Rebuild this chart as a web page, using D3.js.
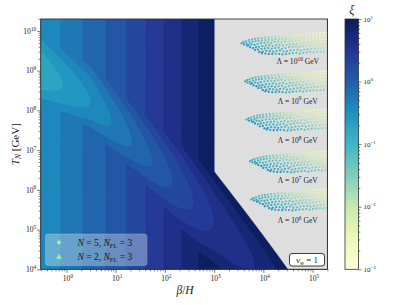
<!DOCTYPE html>
<html><head><meta charset="utf-8">
<script src="https://cdn.jsdelivr.net/npm/d3@7"></script>
<style>
body{margin:0;background:#fff}
svg{display:block}
text{font-family:"Liberation Serif","DejaVu Serif",serif;fill:#1a1a1a}
</style>
</head><body>
<svg id="c" width="407" height="305"></svg>
<script>
// ---------------- data ----------------
const xDomain = [0.3, 2e5];
const yDomain = [1e4, 2e10];
const cDomain = [1e-3, 1e1];
const xTickExp = [0, 1, 2, 3, 4, 5];
const yTickExp = [4, 5, 6, 7, 8, 9, 10];
const cTickExp = [-3, -2, -1, 0, 1];
const levelStepsPerDecade = 6;          // contour levels: logspace(-3, 1, 25)

// log10(beta/H) where the vertical contour bands change level
const bandEdgeX     = [-0.116, 0.33, 0.80, 1.22, 1.61, 1.98, 2.34, 2.69, 3.01];
const bandEdgeLevel = [-1/3, -1/6, 0, 1/6, 1/3, 1/2, 2/3, 5/6, 1];

// diagonal valley of the xi field (log10 units)
const ridgeX    = [-0.52, 0.5, 1.5, 3.0, 4.5];
const ridgeYc   = [8.95, 8.2, 7.0, 5.2, 3.2];
const ridgeC    = [-0.8, -0.5, -0.1, 0.5, 0.8];
const ridgeWUp  = [1.55, 1.55, 1.6, 1.8, 1.8];
const ridgeWLow = [1.2, 1.1, 1.15, 1.8, 1.8];

// scatter clusters (one per Lambda)
const lambdaExp   = [10, 9, 8, 7, 6];
const clusterTipX = [3.56, 3.63, 3.66, 3.73, 3.76];
const clusterTipY = [9.69, 8.73, 7.77, 6.72, 5.76];
const labelX = 4.70, labelDY = -0.83;
// [dlog(beta/H), dlog(T_N), log10(xi)]
const clusterPts = [
[0.00,0.00,-0.8],[0.04,0.03,-0.9],[0.05,-0.03,-0.7],
[0.09,0.05,-1.0],[0.10,-0.01,-0.85],[0.11,-0.06,-0.7],
[0.15,0.08,-1.1],[0.16,0.02,-0.95],[0.14,-0.05,-0.75],[0.17,-0.10,-0.6],
[0.21,0.10,-1.2],[0.22,0.04,-1.05],[0.20,-0.03,-0.85],[0.23,-0.12,-0.55],
[0.27,0.11,-1.25],[0.28,0.05,-1.1],[0.26,-0.04,-0.9],[0.29,-0.10,-0.75],[0.27,-0.17,-0.6],
[0.33,0.12,-1.3],[0.34,0.06,-1.2],[0.32,-0.02,-1.0],[0.35,-0.09,-0.85],[0.33,-0.16,-0.7],[0.36,-0.22,-0.5],
[0.40,0.13,-1.45],[0.41,0.07,-1.3],[0.39,0.00,-1.1],[0.42,-0.07,-0.95],[0.40,-0.14,-0.8],[0.43,-0.21,-0.65],[0.41,-0.25,-0.5],
[0.47,0.14,-1.5],[0.48,0.08,-1.35],[0.46,0.01,-1.2],[0.49,-0.06,-1.05],[0.47,-0.13,-0.9],[0.50,-0.19,-0.75],[0.48,-0.26,-0.6],
[0.54,0.15,-1.6],[0.55,0.09,-1.45],[0.53,0.02,-1.3],[0.56,-0.05,-1.1],[0.54,-0.12,-0.95],[0.57,-0.20,-0.8],[0.55,-0.27,-0.65],
[0.61,0.15,-1.7],[0.62,0.08,-1.5],[0.60,0.01,-1.35],[0.63,-0.07,-1.2],[0.61,-0.14,-1.0],[0.64,-0.21,-0.85],[0.62,-0.27,-0.7],
[0.68,0.16,-1.75],[0.69,0.10,-1.6],[0.67,0.03,-1.45],[0.70,-0.05,-1.3],[0.68,-0.12,-1.1],[0.71,-0.19,-0.95],[0.69,-0.26,-0.8],
[0.75,0.17,-1.85],[0.76,0.11,-1.7],[0.74,0.04,-1.5],[0.77,-0.04,-1.35],[0.75,-0.11,-1.2],[0.78,-0.18,-1.05],[0.76,-0.27,-0.85],
[0.82,0.17,-1.9],[0.83,0.10,-1.75],[0.81,0.02,-1.6],[0.84,-0.06,-1.4],[0.82,-0.14,-1.25],[0.85,-0.21,-1.1],[0.83,-0.28,-0.9],
[0.89,0.18,-2.0],[0.90,0.11,-1.8],[0.88,0.04,-1.65],[0.91,-0.04,-1.5],[0.89,-0.12,-1.3],[0.92,-0.20,-1.15],[0.90,-0.27,-1.0],
[0.96,0.19,-2.1],[0.97,0.12,-1.9],[0.95,0.05,-1.75],[0.98,-0.03,-1.6],[0.96,-0.10,-1.4],[0.99,-0.18,-1.25],[0.97,-0.26,-1.05],
[1.03,0.20,-2.15],[1.04,0.13,-2.0],[1.02,0.06,-1.85],[1.05,-0.02,-1.65],[1.03,-0.09,-1.5],[1.06,-0.17,-1.35],[1.04,-0.25,-1.15],
[1.10,0.21,-2.25],[1.11,0.14,-2.1],[1.09,0.07,-1.9],[1.12,-0.01,-1.75],[1.10,-0.08,-1.6],[1.13,-0.16,-1.4],[1.11,-0.24,-1.2],
[1.17,0.21,-2.3],[1.18,0.14,-2.15],[1.16,0.06,-2.0],[1.19,-0.02,-1.8],[1.17,-0.10,-1.65],[1.20,-0.18,-1.45],[1.18,-0.26,-1.25],
[1.24,0.22,-2.4],[1.25,0.15,-2.2],[1.23,0.08,-2.05],[1.26,0.00,-1.9],[1.24,-0.08,-1.7],[1.27,-0.16,-1.55],[1.25,-0.24,-1.35],
[1.31,0.23,-2.45],[1.32,0.16,-2.3],[1.30,0.09,-2.15],[1.33,0.01,-1.95],[1.31,-0.07,-1.8],[1.34,-0.15,-1.6],[1.32,-0.23,-1.4],
[1.38,0.24,-2.5],[1.39,0.17,-2.35],[1.37,0.10,-2.2],[1.40,0.02,-2.05],[1.38,-0.06,-1.85],[1.41,-0.14,-1.7],[1.39,-0.22,-1.5],
[1.45,0.24,-2.6],[1.46,0.17,-2.45],[1.44,0.10,-2.3],[1.47,0.02,-2.1],[1.45,-0.06,-1.95],[1.48,-0.14,-1.75],[1.46,-0.23,-1.55],
[1.52,0.25,-2.65],[1.53,0.18,-2.5],[1.51,0.11,-2.35],[1.54,0.03,-2.2],[1.52,-0.05,-2.0],[1.55,-0.13,-1.85],[1.53,-0.22,-1.65],
[1.59,0.26,-2.7],[1.60,0.19,-2.55],[1.58,0.12,-2.4],[1.61,0.04,-2.25],[1.59,-0.04,-2.1],[1.62,-0.12,-1.9],[1.60,-0.21,-1.7],
[1.66,0.26,-2.75],[1.67,0.19,-2.6],[1.65,0.11,-2.45],[1.68,0.03,-2.3],[1.66,-0.05,-2.1],[1.69,-0.13,-1.95],[1.67,-0.22,-1.75],
[1.73,0.27,-2.8],[1.74,0.20,-2.65],[1.72,0.12,-2.5],[1.75,0.04,-2.35],[1.73,-0.04,-2.15],[1.76,-0.12,-2.0],[1.74,-0.21,-1.8]
];
const legendItems = [
  {shape:"circle", N:"5", NFL:"3"},
  {shape:"triangle", N:"2", NFL:"3"}
];
const ylgnbu = ['#ffffd9','#edf8b1','#c7e9b4','#7fcdbb','#41b6c4','#1d91c0','#225ea8','#253494','#081d58'];

// ---------------- layout ----------------
const L = 40.7, R = 327.4, T = 19, B = 269.3;
const cbL = 345, cbR = 358.5;
const svg = d3.select("#c");

const x = d3.scaleLog().domain(xDomain).range([L, R]);
const y = d3.scaleLog().domain(yDomain).range([B, T]);
const cy = d3.scaleLog().domain(cDomain).range([B, T]);
const cnorm = d3.scaleLog().domain(cDomain).range([0, 1]).clamp(true);
const cmap = d3.scaleLinear().domain(d3.range(9).map(i => i / 8)).range(ylgnbu).interpolate(d3.interpolateRgb).clamp(true);
const colorOfLog = lv => cmap(cnorm(Math.pow(10, lv)));

// ---------------- field ----------------
const base = d3.scaleLinear().domain(bandEdgeX).range(bandEdgeLevel);
const rYc = d3.scaleLinear().domain(ridgeX).range(ridgeYc);
const rC  = d3.scaleLinear().domain(ridgeX).range(ridgeC);
const rWu = d3.scaleLinear().domain(ridgeX).range(ridgeWUp);
const rWl = d3.scaleLinear().domain(ridgeX).range(ridgeWLow);
function field(X, Y) {
  const b = base(X);
  const v = Y - rYc(X);
  const w = v >= 0 ? rWu(X) : rWl(X);
  return Math.min(b, rC(X) + (v / w) * (v / w));
}
const W = Math.round(R - L), H = Math.round(B - T);
const sx = (R - L) / W, sy = (B - T) / H;
const vals = new Float64Array(W * H);
for (let j = 0; j < H; j++) {
  const Y = Math.log10(y.invert(T + (j + 0.5) * sy));
  for (let i = 0; i < W; i++) {
    const X = Math.log10(x.invert(L + (i + 0.5) * sx));
    vals[j * W + i] = field(X, Y);
  }
}
const lo = Math.log10(cDomain[0]), hi = Math.log10(cDomain[1]);
const levels = d3.range(0, (hi - lo) * levelStepsPerDecade + 1).map(k => lo + k / levelStepsPerDecade);
const contours = d3.contours().size([W, H]).thresholds(levels)(vals);
const gpath = d3.geoPath(d3.geoIdentity());

const defs = svg.append("defs");
defs.append("clipPath").attr("id", "plotclip")
  .append("rect").attr("x", L).attr("y", T).attr("width", R - L).attr("height", B - T);

// background (masked region)
svg.append("rect").attr("x", L).attr("y", T).attr("width", R - L).attr("height", B - T).attr("fill", "#dedede");

const layerShift = Math.log10((1 + Math.pow(10, 1 / levelStepsPerDecade)) / 2);
const cg = svg.append("g").attr("clip-path", "url(#plotclip)")
  .append("g").attr("transform", `translate(${L},${T}) scale(${sx},${sy})`);
contours.forEach(c => {
  const isTop = c.value >= hi - 1e-9;
  const col = isTop ? "#dedede" : colorOfLog(c.value + layerShift);
  cg.append("path").attr("d", gpath(c)).attr("fill", col).attr("stroke", col).attr("stroke-width", 0.3);
});

// ---------------- scatter ----------------
const sg = svg.append("g").attr("clip-path", "url(#plotclip)");
lambdaExp.forEach((le, k) => {
  clusterPts.forEach(p => {
    const X = clusterTipX[k] + p[0], Y = clusterTipY[k] + p[1];
    sg.append("circle").attr("cx", x(Math.pow(10, X))).attr("cy", y(Math.pow(10, Y)))
      .attr("r", 1.15).attr("fill", colorOfLog(p[2]));
  });
});
lambdaExp.forEach((le) => {
  const t = svg.append("text").attr("x", x(Math.pow(10, labelX))).attr("y", y(Math.pow(10, le + labelDY)))
    .attr("text-anchor", "middle").style("font-size", "7.6px");
  t.append("tspan").text("\u039B = 10");
  t.append("tspan").attr("dy", -3.2).style("font-size", "5.4px").text(le);
  t.append("tspan").attr("dy", 3.2).text(" GeV");
});

// ---------------- axes ----------------
function powLabel(g, e, px, py, anchor, fs) {
  const t = g.append("text").attr("x", px).attr("y", py).attr("text-anchor", anchor).style("font-size", fs + "px");
  t.append("tspan").text("10");
  t.append("tspan").attr("dy", -fs * 0.42).style("font-size", (fs * 0.7) + "px").text(e < 0 ? "\u2212" + (-e) : e);
}
function minorTicks(domain) {
  const out = [];
  const a = Math.floor(Math.log10(domain[0])), b = Math.ceil(Math.log10(domain[1]));
  for (let e = a; e <= b; e++) for (let m = 2; m <= 9; m++) {
    const v = m * Math.pow(10, e);
    if (v >= domain[0] * 0.999 && v <= domain[1] * 1.001) out.push(v);
  }
  return out;
}
const axG = svg.append("g");
const styleAxis = g => { g.selectAll("path").remove(); g.selectAll("line").attr("stroke", "#222").attr("stroke-width", 0.6); };
axG.append("g").attr("transform", `translate(0,${B})`)
  .call(d3.axisBottom(x).tickValues(xTickExp.map(e => Math.pow(10, e))).tickSize(3.5).tickFormat(() => "")).call(styleAxis);
axG.append("g").attr("transform", `translate(0,${B})`)
  .call(d3.axisBottom(x).tickValues(minorTicks(xDomain)).tickSize(2).tickFormat(() => "")).call(styleAxis);
axG.append("g").attr("transform", `translate(${L},0)`)
  .call(d3.axisLeft(y).tickValues(yTickExp.map(e => Math.pow(10, e))).tickSize(3.5).tickFormat(() => "")).call(styleAxis);
axG.append("g").attr("transform", `translate(${L},0)`)
  .call(d3.axisLeft(y).tickValues(minorTicks(yDomain)).tickSize(2).tickFormat(() => "")).call(styleAxis);
xTickExp.forEach(e => powLabel(axG, e, x(Math.pow(10, e)) + 1.5, B + 11.5, "middle", 7.6));
yTickExp.forEach(e => powLabel(axG, e, L - 4.5, y(Math.pow(10, e)) + 2.8, "end", 7.6));

// frame
svg.append("rect").attr("x", L).attr("y", T).attr("width", R - L).attr("height", B - T)
  .attr("fill", "none").attr("stroke", "#333").attr("stroke-width", 0.9);

// axis labels
const xl = svg.append("text").attr("x", (L + R) / 2 + 1).attr("y", 294).attr("text-anchor", "middle").style("font-size", "11.5px");
xl.append("tspan").style("font-style", "italic").text("\u03B2");
xl.append("tspan").text("/");
xl.append("tspan").style("font-style", "italic").text("H");
const yl = svg.append("text").attr("transform", `translate(19,${(T + B) / 2}) rotate(-90)`).attr("text-anchor", "middle").style("font-size", "11px");
yl.append("tspan").style("font-style", "italic").text("T");
yl.append("tspan").attr("dy", 2.2).style("font-size", "7.5px").style("font-style", "italic").text("N");
yl.append("tspan").attr("dy", -2.2).text(" [GeV]");

// ---------------- colorbar ----------------
const grad = defs.append("linearGradient").attr("id", "cbgrad")
  .attr("x1", 0).attr("y1", 1).attr("x2", 0).attr("y2", 0);
ylgnbu.forEach((c, i) => grad.append("stop").attr("offset", i / 8).attr("stop-color", c));
svg.append("rect").attr("x", cbL).attr("y", T).attr("width", cbR - cbL).attr("height", B - T).attr("fill", "url(#cbgrad)");
const cbAx = svg.append("g").attr("transform", `translate(${cbR},0)`);
cbAx.append("g").call(d3.axisRight(cy).tickValues(cTickExp.map(e => Math.pow(10, e))).tickSize(3).tickFormat(() => "")).call(styleAxis);
cbAx.append("g").call(d3.axisRight(cy).tickValues(minorTicks(cDomain)).tickSize(1.8).tickFormat(() => "")).call(styleAxis);
cTickExp.forEach(e => powLabel(svg, e, cbR + 5, cy(Math.pow(10, e)) + 2.5, "start", 7));
svg.append("rect").attr("x", cbL).attr("y", T).attr("width", cbR - cbL).attr("height", B - T)
  .attr("fill", "none").attr("stroke", "#333").attr("stroke-width", 0.8);
svg.append("text").attr("x", (cbL + cbR) / 2).attr("y", 14).attr("text-anchor", "middle")
  .style("font-size", "12px").style("font-style", "italic").text("\u03BE");

// ---------------- legend ----------------
const lg = svg.append("g");
lg.append("rect").attr("x", 45.5).attr("y", 234).attr("width", 101.5).attr("height", 31.5).attr("rx", 2.5)
  .attr("fill", "#ffffff").attr("fill-opacity", 0.32).attr("stroke", "#d0d0d0").attr("stroke-opacity", 0.5).attr("stroke-width", 0.6);
legendItems.forEach((d, i) => {
  const cyL = 242.5 + i * 14.5;
  if (d.shape === "circle") lg.append("circle").attr("cx", 59).attr("cy", cyL).attr("r", 2).attr("fill", "#9df39a");
  else lg.append("path").attr("d", d3.symbol(d3.symbolTriangle, 14)()).attr("transform", `translate(59,${cyL})`).attr("fill", "#9df39a");
  const t = lg.append("text").attr("x", 77.5).attr("y", cyL + 3.2).style("font-size", "9.5px");
  t.append("tspan").style("font-style", "italic").text("N");
  t.append("tspan").text(" = " + d.N + ", ");
  t.append("tspan").style("font-style", "italic").text("N");
  t.append("tspan").attr("dy", 2).style("font-size", "6.5px").text("FL");
  t.append("tspan").attr("dy", -2).text(" = " + d.NFL);
});

// ---------------- v_w box ----------------
svg.append("rect").attr("x", 289.5).attr("y", 253.5).attr("width", 35).attr("height", 12.5).attr("rx", 2.5)
  .attr("fill", "#fff").attr("stroke", "#111").attr("stroke-width", 0.8);
const vt = svg.append("text").attr("x", 307).attr("y", 263).attr("text-anchor", "middle").style("font-size", "9px");
vt.append("tspan").style("font-style", "italic").text("v");
vt.append("tspan").attr("dy", 1.6).style("font-size", "6px").style("font-style", "italic").text("w");
vt.append("tspan").attr("dy", -1.6).text(" = 1");
</script>
</body></html>
